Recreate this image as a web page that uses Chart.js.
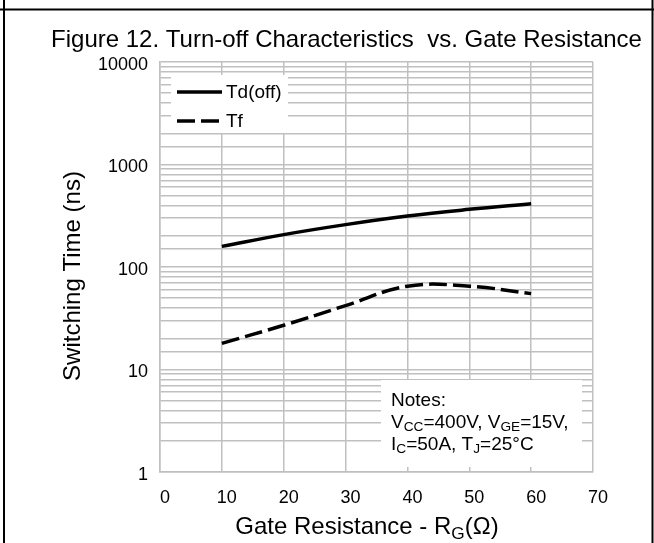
<!DOCTYPE html>
<html>
<head>
<meta charset="utf-8">
<script src="https://cdn.jsdelivr.net/npm/chart.js@4"></script>
<style>
  body { margin: 0; background: #fff; }
</style>
</head>
<body>
<canvas id="grafico" width="654" height="543"></canvas>
<script>
// valores
const resistencias = [10, 20, 30, 40, 50, 60];
const tdOff = [159, 207, 259, 314, 365, 415];
const tf = [18, 27, 42, 65, 65, 55];
const xTicks = [0, 10, 20, 30, 40, 50, 60, 70];
const yLabels = [1, 10, 100, 1000, 10000];

const FONTE = '"Liberation Sans", Arial, sans-serif';

// desenha texto com subscritos: [['V', false], ['CC', true], ...]
function textoRico(ctx, partes, x, y, tam) {
  let px = x;
  partes.forEach(p => {
    const sub = p[1];
    ctx.font = (sub ? tam * 0.72 : tam) + 'px ' + FONTE;
    ctx.fillText(p[0], px, sub ? y + tam * 0.22 : y);
    px += ctx.measureText(p[0]).width;
  });
}

const extras = {
  id: 'extras',
  afterDraw(chart) {
    const ctx = chart.ctx;
    ctx.save();
    ctx.fillStyle = '#000';
    ctx.textBaseline = 'alphabetic';

    // titulo
    ctx.font = '24px ' + FONTE;
    ctx.textAlign = 'center';
    ctx.fillText('Figure 12. Turn-off Characteristics  vs. Gate Resistance', 346.5, 47);

    // eixo y
    ctx.save();
    ctx.translate(80, 276);
    ctx.rotate(-Math.PI / 2);
    ctx.fillText('Switching Time (ns)', 0, 0);
    ctx.restore();

    // eixo x
    ctx.textAlign = 'left';
    const partesX = [['Gate Resistance - R', false], ['G', true], ['(Ω)', false]];
    let w = 0;
    partesX.forEach(p => {
      ctx.font = (p[1] ? 24 * 0.72 : 24) + 'px ' + FONTE;
      w += ctx.measureText(p[0]).width;
    });
    textoRico(ctx, partesX, 367 - w / 2, 534, 24);

    // legenda
    ctx.fillStyle = '#fff';
    ctx.fillRect(171, 75, 117, 58);
    ctx.fillStyle = '#000';
    ctx.textBaseline = 'middle';
    ctx.font = '19px ' + FONTE;
    const linhas = [92, 121];
    chart.data.datasets.forEach((ds, i) => {
      ctx.beginPath();
      ctx.lineWidth = ds.borderWidth;
      ctx.strokeStyle = ds.borderColor;
      ctx.setLineDash(ds.borderDash || []);
      ctx.moveTo(177, linhas[i]);
      ctx.lineTo(222, linhas[i]);
      ctx.stroke();
      ctx.setLineDash([]);
      ctx.fillText(ds.label, 226, linhas[i] + 1);
    });

    // notas
    ctx.fillStyle = '#fff';
    ctx.fillRect(381, 380, 201, 87);
    ctx.fillStyle = '#000';
    ctx.textBaseline = 'middle';
    ctx.font = '19px ' + FONTE;
    ctx.fillText('Notes:', 391, 401);
    textoRico(ctx, [['V', false], ['CC', true], ['=400V, V', false], ['GE', true], ['=15V,', false]], 391, 423, 19);
    textoRico(ctx, [['I', false], ['C', true], ['=50A, T', false], ['J', true], ['=25°C', false]], 391, 445, 19);

    // moldura
    ctx.strokeStyle = '#000';
    ctx.lineWidth = 2;
    ctx.beginPath();
    ctx.moveTo(4, 0); ctx.lineTo(4, 543);
    ctx.moveTo(652.5, 0); ctx.lineTo(652.5, 543);
    ctx.moveTo(0, 9.5); ctx.lineTo(654, 9.5);
    ctx.stroke();
    ctx.restore();
  }
};

let chart;

function criarGrafico() {
  const ctx = document.getElementById('grafico').getContext('2d');

  chart = new Chart(ctx, {
    type: 'line',
    data: {
      labels: resistencias,
      datasets: [
        {
          label: 'Td(off)',
          data: resistencias.map((x, i) => ({ x: x, y: tdOff[i] })),
          borderColor: '#000',
          borderWidth: 3.5,
          pointRadius: 0,
          tension: 0.4,
          fill: false
        },
        {
          label: 'Tf',
          data: resistencias.map((x, i) => ({ x: x, y: tf[i] })),
          borderColor: '#000',
          borderWidth: 3.5,
          borderDash: [18, 6],
          pointRadius: 0,
          tension: 0.4,
          fill: false
        }
      ]
    },
    options: {
      responsive: false,
      animation: false,
      layout: { padding: { top: 62, right: 61, left: 0, bottom: 0 } },
      plugins: {
        legend: { display: false },
        title: { display: false },
        tooltip: { enabled: false }
      },
      scales: {
        x: {
          type: 'linear',
          min: 0,
          max: 70,
          afterBuildTicks: axis => { axis.ticks = xTicks.map(v => ({ value: v })); },
          afterFit: axis => { axis.height = 71; },
          grid: { color: '#c0c0c0', lineWidth: 1.5, drawTicks: false },
          border: { color: '#c0c0c0', width: 1.5 },
          ticks: {
            color: '#000',
            font: { family: FONTE, size: 18 },
            padding: 15,
            labelOffset: 5,
            maxRotation: 0,
            autoSkip: false
          }
        },
        y: {
          type: 'logarithmic',
          min: 1,
          max: 10000,
          afterFit: axis => { axis.width = 160; },
          grid: { color: '#c0c0c0', lineWidth: 1.5, drawTicks: false },
          border: { color: '#c0c0c0', width: 1.5 },
          ticks: {
            color: '#000',
            font: { family: FONTE, size: 18 },
            padding: 12,
            labelOffset: 3,
            autoSkip: false,
            callback: v => yLabels.includes(v) ? String(v) : ''
          }
        }
      }
    },
    plugins: [extras]
  });
}

window.onload = function () {
  criarGrafico();
};
</script>
</body>
</html>
